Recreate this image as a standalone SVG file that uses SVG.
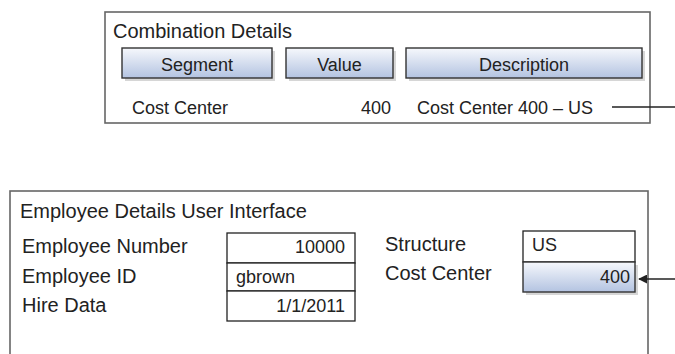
<svg xmlns="http://www.w3.org/2000/svg" width="675" height="354" viewBox="0 0 675 354">
<style>
text{font-family:"Liberation Sans",Arial,sans-serif;fill:#222}
.t18{font-size:18px}
.t20{font-size:20px}
.outer{fill:#fff;stroke:#666;stroke-width:1.6}
.field{fill:#fff;stroke:#222;stroke-width:1.3}
.hdr{fill:url(#g);stroke:#333;stroke-width:1.4}
.sh{fill:#bbb;opacity:0.6}
.conn{stroke:#222;stroke-width:1.5;fill:none}
.end{text-anchor:end}
.mid{text-anchor:middle}
</style>
<defs>
<linearGradient id="g" x1="0" y1="0" x2="0" y2="1">
<stop offset="0" stop-color="#f6f8fc"/>
<stop offset="1" stop-color="#b3c3e1"/>
</linearGradient>
<marker id="ah" viewBox="0 0 10 10" refX="9" refY="5" markerWidth="6" markerHeight="6" orient="auto">
<path d="M0,0 L10,5 L0,10 z" fill="#222"/>
</marker>
</defs>

<g id="combination-details">
<rect class="outer" x="105" y="12" width="545" height="111"/>
<text class="t20" x="113" y="38">Combination Details</text>
<rect class="sh" x="125" y="51" width="150" height="30"/>
<rect class="hdr" x="122" y="48" width="150" height="30"/>
<text class="t18 mid" x="197" y="71">Segment</text>
<rect class="sh" x="289" y="51" width="107" height="30"/>
<rect class="hdr" x="286" y="48" width="107" height="30"/>
<text class="t18 mid" x="339.5" y="71">Value</text>
<rect class="sh" x="409" y="51" width="236" height="30"/>
<rect class="hdr" x="406" y="48" width="236" height="30"/>
<text class="t18 mid" x="524" y="71">Description</text>
<text class="t18" x="132" y="114">Cost Center</text>
<text class="t18 end" x="391" y="114">400</text>
<text class="t18" x="417" y="114">Cost Center 400 – US</text>
</g>

<g id="employee-details">
<rect class="outer" x="10" y="191" width="638" height="175"/>
<text class="t20" x="20" y="218">Employee Details User Interface</text>
<text class="t20" x="22" y="253">Employee Number</text>
<text class="t20" x="22" y="283">Employee ID</text>
<text class="t20" x="22" y="312">Hire Data</text>
<rect class="field" x="227" y="233" width="128" height="30"/>
<rect class="field" x="227" y="263" width="128" height="28"/>
<rect class="field" x="227" y="291" width="128" height="30"/>
<text class="t18 end" x="345" y="253">10000</text>
<text class="t18" x="236" y="283">gbrown</text>
<text class="t18 end" x="345" y="312">1/1/2011</text>
<text class="t20" x="385" y="251">Structure</text>
<text class="t20" x="385" y="280">Cost Center</text>
<rect class="field" x="523" y="231" width="112" height="31"/>
<text class="t18" x="532" y="251">US</text>
<rect class="sh" x="526" y="265" width="112" height="30"/>
<rect class="hdr" x="523" y="262" width="112" height="30"/>
<text class="t18 end" x="630" y="283">400</text>
</g>

<g id="connectors">
<line class="conn" x1="612" y1="107" x2="675" y2="107"/>
<line class="conn" x1="675" y1="279" x2="639" y2="279" marker-end="url(#ah)"/>
</g>
</svg>
